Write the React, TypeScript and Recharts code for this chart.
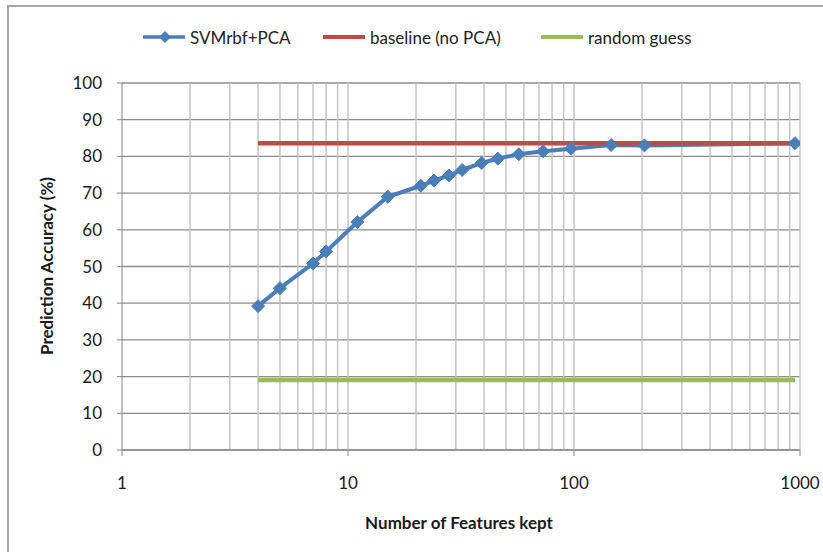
import { LineChart, Line, XAxis, YAxis, CartesianGrid, ReferenceLine } from 'recharts';

// features kept (log scale) vs. prediction accuracy in %
const featureCounts = [4, 5, 7, 8, 11, 15, 21, 24, 28, 32, 39, 46, 57, 73, 97, 146, 205, 950];
const svmAccuracy = [39.2, 44.1, 50.8, 54.1, 62.1, 69.0, 72.0, 73.4, 74.8, 76.3, 78.2, 79.4, 80.6, 81.4, 82.1, 83.1, 83.0, 83.6];
const baselineX = [4, 1000];
const baselineAccuracy = 83.6;
const randomX = [4, 950];
const randomAccuracy = 19.1;

const xTicks = [1, 10, 100, 1000];
const xGridValues = [2, 3, 4, 5, 6, 7, 8, 9, 10, 20, 30, 40, 50, 60, 70, 80, 90, 100, 200, 300, 400, 500, 600, 700, 800, 900, 1000];
const yTicks = [0, 10, 20, 30, 40, 50, 60, 70, 80, 90, 100];

const BLUE = '#4a7ebb';
const RED = '#be4b48';
const GREEN = '#9bbb59';
const FONT = 'Lato, "Liberation Sans", sans-serif';

const svmData = featureCounts.map((x, i) => ({ x, y: svmAccuracy[i] }));
const baselineData = baselineX.map((x) => ({ x, y: baselineAccuracy }));
const randomData = randomX.map((x) => ({ x, y: randomAccuracy }));

const Diamond = (props: any) => {
    const { cx, cy } = props;
    if (cx == null || cy == null) return null;
    const r = 6.5;
    return <path d={`M${cx},${cy - r}L${cx + r},${cy}L${cx},${cy + r}L${cx - r},${cy}Z`} fill={BLUE} stroke={BLUE} strokeWidth={1} />;
};

function LegendItem({ left, color, label, marker }: { left: number; color: string; label: string; marker?: boolean }) {
    return (
        <div style={{ position: 'absolute', left, top: 28, height: 18, display: 'flex', alignItems: 'center' }}>
            <svg width={44} height={14} style={{ marginRight: 3 }}>
                <line x1={0} y1={7} x2={42} y2={7} stroke={color} strokeWidth={marker ? 3.5 : 4} />
                {marker && <path d="M22,1L28,7L22,13L16,7Z" fill={color} />}
            </svg>
            <span style={{ fontFamily: FONT, fontSize: 17, color: '#222', whiteSpace: 'nowrap' }}>{label}</span>
        </div>
    );
}

export default function App() {
    return (
        <div style={{ position: 'absolute', left: 0, top: 0, width: 823, height: 552, overflow: 'hidden', background: '#fff' }}>
            <div style={{ position: 'absolute', left: 7, top: 5, width: 840, height: 570, border: '2px solid #a6a6a6' }} />
            <LegendItem left={143} color={BLUE} label="SVMrbf+PCA" marker />
            <LegendItem left={323} color={RED} label="baseline (no PCA)" />
            <LegendItem left={541} color={GREEN} label="random guess" />
            <div style={{ position: 'absolute', left: 0, top: 0 }}>
                <LineChart width={823} height={552} margin={{ top: 83, right: 23, bottom: 62, left: 62 }}>
                    <CartesianGrid stroke="#8c8c8c" strokeWidth={1.3} vertical={false} />
                    {xGridValues.map((v) => (
                        <ReferenceLine key={v} x={v} stroke="#c4c4c4" strokeWidth={1.5} />
                    ))}
                    <XAxis
                        dataKey="x"
                        type="number"
                        scale="log"
                        domain={[1, 1000]}
                        ticks={xTicks}
                        allowDataOverflow
                        height={40}
                        stroke="#868686"
                        tickSize={6}
                        tickMargin={21}
                        tick={{ fill: '#1a1a1a', fontSize: 17, fontFamily: FONT }}
                        label={{
                            content: () => (
                                <text x={459} y={529} textAnchor="middle" fontFamily={FONT} fontSize={17} fontWeight={700} fill="#1a1a1a">
                                    Number of Features kept
                                </text>
                            ),
                        }}
                    />
                    <YAxis
                        type="number"
                        domain={[0, 100]}
                        ticks={yTicks}
                        width={60}
                        stroke="#868686"
                        tickSize={5}
                        tickMargin={15}
                        tick={{ fill: '#1a1a1a', fontSize: 17, fontFamily: FONT }}
                        label={{
                            content: () => (
                                <text x={53} y={266} transform="rotate(-90 53 266)" textAnchor="middle" fontFamily={FONT} fontSize={17} fontWeight={700} fill="#1a1a1a">
                                    Prediction Accuracy  (%)
                                </text>
                            ),
                        }}
                    />
                    <Line data={svmData} dataKey="y" stroke={BLUE} strokeWidth={4} dot={<Diamond />} isAnimationActive={false} />
                    <Line data={baselineData} dataKey="y" stroke={RED} strokeWidth={4.5} dot={false} isAnimationActive={false} />
                    <Line data={randomData} dataKey="y" stroke={GREEN} strokeWidth={4.5} dot={false} isAnimationActive={false} />
                </LineChart>
            </div>
        </div>
    );
}
